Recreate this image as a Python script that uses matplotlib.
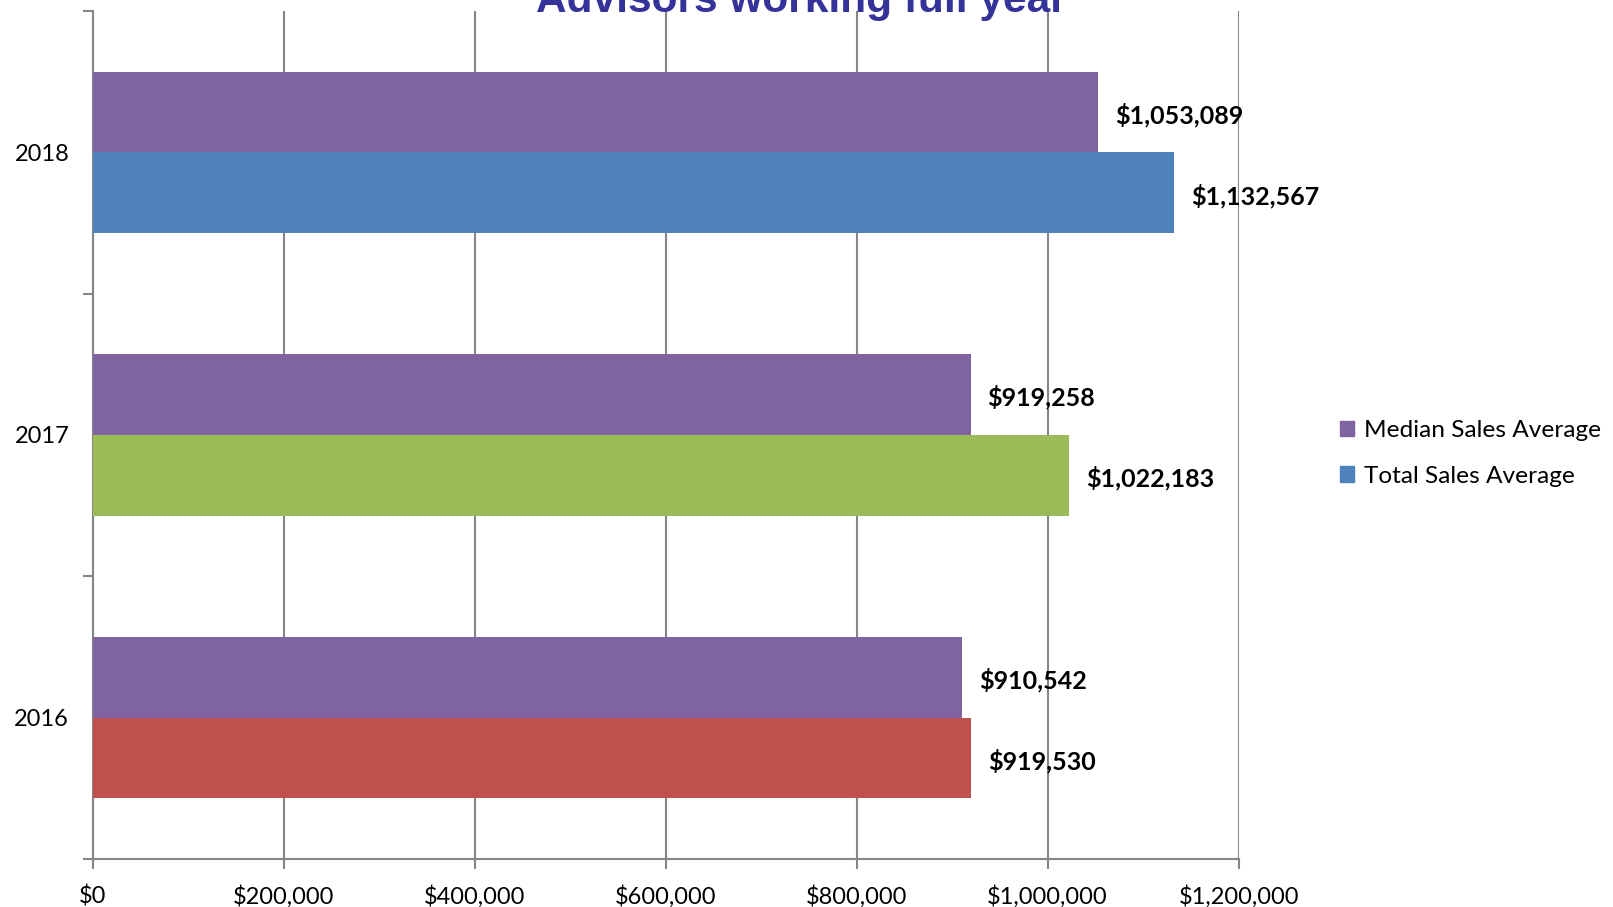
import matplotlib
matplotlib.use("Agg")
from matplotlib import pyplot as plt
from matplotlib.patches import Patch

years = ["2016", "2017", "2018"]
median_sales = [910542, 919258, 1053089]
total_sales = [919530, 1022183, 1132567]
total_colors = ["#C0504D", "#9BBB59", "#4F81BD"]
median_color = "#8064A2"
xticks = [0, 200000, 400000, 600000, 800000, 1000000, 1200000]

plt.rcParams['font.family'] = ['Lato', 'DejaVu Sans']

fig = plt.figure(figsize=(16.13, 9.07), dpi=100)
ax = fig.add_axes([0.0575, 0.0529, 0.7104, 0.9350])

w = 0.2857
ypos = list(range(len(years)))
ax.barh([y + w / 2 for y in ypos], median_sales, height=w, color=median_color, zorder=3)
ax.barh([y - w / 2 for y in ypos], total_sales, height=w, color=total_colors, zorder=3)

# value labels
for y, m, t in zip(ypos, median_sales, total_sales):
    ax.annotate("${:,}".format(m), (m, y + w / 2), xytext=(17, -3), textcoords="offset pixels",
                va="center", ha="left", fontsize=18, fontweight="bold")
    ax.annotate("${:,}".format(t), (t, y - w / 2), xytext=(17, -3), textcoords="offset pixels",
                va="center", ha="left", fontsize=18, fontweight="bold")

ax.set_xlim(0, 1200000)
ax.set_ylim(-0.5, 2.5)
ax.set_xticks(xticks)
ax.set_xticklabels(["${:,}".format(v) for v in xticks], fontsize=17)
ax.set_yticks(ypos)
ax.set_yticklabels(years, fontsize=17)
ax.tick_params(axis="y", which="major", length=0, pad=17)
ax.set_yticks([-0.5, 0.5, 1.5, 2.5], minor=True)
ax.tick_params(axis="y", which="minor", length=7, color="#868686", width=1.5)
ax.tick_params(axis="x", length=7, color="#868686", width=1.5, pad=12)

ax.grid(axis="x", color="#868686", linewidth=1.5, zorder=0)
for s in ["top", "right"]:
    ax.spines[s].set_visible(False)
for s in ["left", "bottom"]:
    ax.spines[s].set_color("#868686")
    ax.spines[s].set_linewidth(1.5)

handles = [Patch(color=median_color, label="Median Sales Average"),
           Patch(color=total_colors[2], label="Total Sales Average")]
fig.legend(handles=handles, loc="center left", bbox_to_anchor=(0.817, 0.5), frameon=False,
           fontsize=17.6, handlelength=0.6, handleheight=0.6, handletextpad=0.4, labelspacing=1.0)

fig.text(0.497, 0.987, "Advisors working full year", ha="center", va="baseline",
         fontsize=30.5, fontweight="bold", color="#333399", family="Liberation Sans")

fig.savefig("out.png", dpi=100)
